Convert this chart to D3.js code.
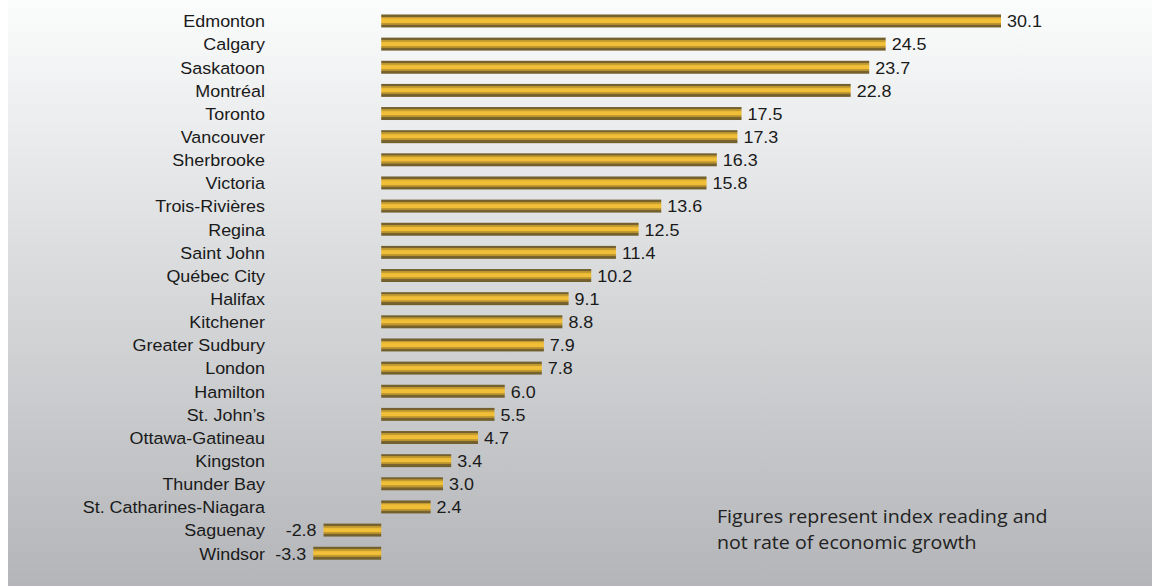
<!DOCTYPE html>
<html>
<head>
<meta charset="utf-8">
<script src="https://cdn.jsdelivr.net/npm/d3@7"></script>
<style>
  html, body { margin: 0; padding: 0; background: #ffffff; }
  svg { display: block; }
</style>
</head>
<body>
<svg id="chart" width="1152" height="586"></svg>
<script>
// Index readings by city
const cities = [
  "Edmonton", "Calgary", "Saskatoon", "Montréal", "Toronto", "Vancouver",
  "Sherbrooke", "Victoria", "Trois-Rivières", "Regina", "Saint John",
  "Québec City", "Halifax", "Kitchener", "Greater Sudbury", "London",
  "Hamilton", "St. John’s", "Ottawa-Gatineau", "Kingston", "Thunder Bay",
  "St. Catharines-Niagara", "Saguenay", "Windsor"
];
const values = [
  30.1, 24.5, 23.7, 22.8, 17.5, 17.3, 16.3, 15.8, 13.6, 12.5, 11.4,
  10.2, 9.1, 8.8, 7.9, 7.8, 6.0, 5.5, 4.7, 3.4, 3.0, 2.4, -2.8, -3.3
];
const noteLines = [
  "Figures represent index reading and",
  "not rate of economic growth"
];

const W = 1152, H = 586;
const STRETCH = 1.1; // slightly wide lettering
const svg = d3.select("#chart");
const defs = svg.append("defs");

// Background: soft vertical fade from near white to cool grey
const bg = defs.append("linearGradient")
  .attr("id", "bg").attr("x1", 0).attr("y1", 0).attr("x2", 0).attr("y2", 1);
bg.append("stop").attr("offset", "0%").attr("stop-color", "#fbfcfc");
bg.append("stop").attr("offset", "50%").attr("stop-color", "#d6d8da");
bg.append("stop").attr("offset", "100%").attr("stop-color", "#b3b5b8");

// Bars: gold tube with dark olive rims
const barGrad = defs.append("linearGradient")
  .attr("id", "bar").attr("x1", 0).attr("y1", 0).attr("x2", 0).attr("y2", 1);
[
  ["0%", "#6f5d2b"], ["16%", "#7a6530"], ["17%", "#b8922e"], ["30%", "#c9a030"],
  ["31%", "#e6b633"], ["45%", "#f2c03a"], ["62%", "#f0bd35"], ["63%", "#c9a030"],
  ["78%", "#b08c2e"], ["79%", "#7a6530"], ["100%", "#6f5d2b"]
].forEach(([o, c]) => barGrad.append("stop").attr("offset", o).attr("stop-color", c));

svg.append("rect")
  .attr("x", 8).attr("y", 0).attr("width", W - 8).attr("height", H)
  .attr("fill", "url(#bg)");

const x = d3.scaleLinear().domain([0, 30.1]).range([381.2, 1001]);
const y = d3.scaleBand().domain(cities).range([9.4, 564.8]).paddingInner(0.44).paddingOuter(0.22);

const data = cities.map((c, i) => ({ city: c, value: values[i] }));

// City labels via a left axis without lines
const axis = d3.axisLeft(y).tickSize(0).tickPadding(0);
const gAxis = svg.append("g")
  .attr("transform", `translate(265,0.5) scale(${STRETCH},1)`)
  .call(axis);
gAxis.select(".domain").remove();
gAxis.selectAll("text")
  .attr("font-family", "'Liberation Sans', Arial, sans-serif")
  .attr("font-size", "16.3px")
  .attr("fill", "#1a1a1a")
  .attr("dy", "0.36em");

svg.append("g").selectAll("rect")
  .data(data).join("rect")
  .attr("x", d => x(Math.min(0, d.value)))
  .attr("y", d => y(d.city))
  .attr("width", d => Math.abs(x(d.value) - x(0)))
  .attr("height", y.bandwidth())
  .attr("fill", "url(#bar)");

svg.append("g").selectAll("text")
  .data(data).join("text")
  .attr("transform", d => {
    const tx = d.value >= 0 ? x(d.value) + 6 : x(d.value) - 7;
    const ty = y(d.city) + y.bandwidth() / 2 + 0.5;
    return `translate(${tx},${ty}) scale(${STRETCH},1)`;
  })
  .attr("dy", "0.36em")
  .attr("text-anchor", d => d.value >= 0 ? "start" : "end")
  .attr("font-family", "'Liberation Sans', Arial, sans-serif")
  .attr("font-size", "16.3px")
  .attr("fill", "#1a1a1a")
  .text(d => d.value.toFixed(1));

svg.append("g").selectAll("text")
  .data(noteLines).join("text")
  .attr("transform", (d, i) => `translate(717,${523 + i * 26}) scale(1.09,1)`)
  .attr("font-family", "'Open Sans', 'Noto Sans', sans-serif")
  .attr("font-size", "18px")
  .attr("fill", "#222222")
  .text(d => d);
</script>
</body>
</html>
